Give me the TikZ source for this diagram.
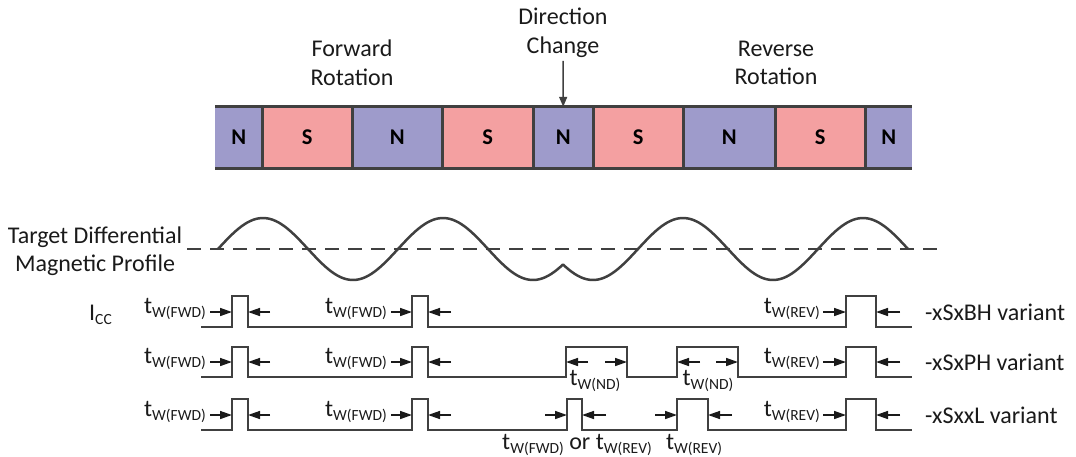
\documentclass[tikz,border=0pt]{standalone}
\usepackage{fontspec}
\setmainfont{Carlito}
\usetikzlibrary{arrows.meta}
\definecolor{lineg}{HTML}{404040}
\definecolor{ncol}{HTML}{9E9BCB}
\definecolor{scol}{HTML}{F4A0A1}
\definecolor{ink}{HTML}{1A1A1A}
\newcommand\twsub[1]{t\raisebox{-4pt}{\fontsize{15.5}{15.5}\selectfont W(#1)}}
\begin{document}
\begin{tikzpicture}[x=1pt,y=-1pt,
  txt/.style={font=\fontsize{24}{28.5}\selectfont, inner sep=0pt, text=ink, align=center},
  mag/.style={draw=none, minimum height=61pt, inner sep=0pt, anchor=west, text=black,
              font=\fontsize{22.5}{22.5}\selectfont\bfseries},
  npole/.style={mag, fill=ncol},
  spole/.style={mag, fill=scol},
  edge/.style={lineg, line width=3pt},
  wave/.style={lineg, line width=2.5pt},
  pulse/.style={lineg, line width=2.5pt},
  dimarr/.style={-{Triangle[length=12pt,width=8pt]}, line width=1.5pt, ink},
  downarr/.style={-{Triangle[length=10pt,width=8pt]}, line width=1.5pt, lineg}
]
\useasboundingbox (0,0) rectangle (1076,456);

% ---- magnet strip ----
\node[npole, minimum width=47pt] (m1) at (215,137.5) {N};
\node[spole, minimum width=90pt] (m2) at (262,137.5) {S};
\node[npole, minimum width=90pt] (m3) at (352,137.5) {N};
\node[spole, minimum width=91pt] (m4) at (442,137.5) {S};
\node[npole, minimum width=60pt] (m5) at (533,137.5) {N};
\node[spole, minimum width=90pt] (m6) at (593,137.5) {S};
\node[npole, minimum width=92pt] (m7) at (683,137.5) {N};
\node[spole, minimum width=90pt] (m8) at (775,137.5) {S};
\node[npole, minimum width=47pt] (m9) at (865,137.5) {N};
\draw[edge] (m1.north west) -- (m9.north east);
\draw[edge] (m1.south west) -- (m9.south east);
\foreach \m in {m1,m2,m3,m4,m5,m6,m7,m8}
  \draw[edge] (\m.north east) -- (\m.south east);

% ---- top labels ----
\node[txt] (fwd) at (352,63) {Forward\\Rotation};
\node[txt] (rev) at (776,63) {Reverse\\Rotation};
\node[txt] (dir) at (563,33) {Direction\\Change};
\draw[downarr] (dir.south) ++(0,3) coordinate (dtop) (dtop) -- (m5.north);

% ---- magnetic profile ----
\node[txt] (prof) at (95,251) {Target Differential\\Magnetic Profile};
\coordinate (dl) at (187,249);
\coordinate (dr) at (942,249);
\draw[lineg, line width=2.5pt, dash pattern=on 14pt off 9pt] (dl) -- (dr);
\draw[wave, line join=round] plot[domain=218:563, samples=120] (\x, {249-31*sin(2*(\x-218))})
   -- plot[domain=563:908, samples=120] (\x, {249+31*cos(2*(\x-593))});

% ---- Icc label ----
\node[txt, anchor=base west] (icc) at (89,320) {I\raisebox{-4pt}{\fontsize{15.5}{15.5}\selectfont CC}};

% ---- row 1: BH ----
\draw[pulse] (201,327) -- (232,327) -- (232,296) -- (248,296) -- (248,327)
  -- (412,327) -- (412,296) -- (428,296) -- (428,327)
  -- (846,327) -- (846,296) -- (876,296) -- (876,327) -- (912,327);
\draw[dimarr] (210,312) -- (232,312);
\draw[dimarr] (270,312) -- (248,312);
\draw[dimarr] (391,312) -- (412,312);
\draw[dimarr] (451,312) -- (428,312);
\draw[dimarr] (823,312) -- (846,312);
\draw[dimarr] (900,312) -- (876,312);
\node[txt, anchor=base east] (r1a) at (206,313) {\twsub{FWD}};
\node[txt, anchor=base east] (r1b) at (387,313) {\twsub{FWD}};
\node[txt, anchor=base east] (r1c) at (820,313) {\twsub{REV}};
\node[txt, anchor=base west] (v1) at (925,320) {-xSxBH variant};

% ---- row 2: PH ----
\draw[pulse] (201,377) -- (232,377) -- (232,347) -- (248,347) -- (248,377)
  -- (412,377) -- (412,347) -- (428,347) -- (428,377)
  -- (566,377) -- (566,347) -- (627,347) -- (627,377)
  -- (677,377) -- (677,347) -- (738,347) -- (738,377)
  -- (846,377) -- (846,347) -- (876,347) -- (876,377) -- (912,377);
\draw[dimarr] (210,362) -- (232,362);
\draw[dimarr] (270,362) -- (248,362);
\draw[dimarr] (391,362) -- (412,362);
\draw[dimarr] (451,362) -- (428,362);
\draw[dimarr] (588,362) -- (566,362);
\draw[dimarr] (605,362) -- (627,362);
\draw[dimarr] (700,362) -- (677,362);
\draw[dimarr] (716,362) -- (738,362);
\draw[dimarr] (823,362) -- (846,362);
\draw[dimarr] (900,362) -- (876,362);
\node[txt, anchor=base east] (r2a) at (206,363) {\twsub{FWD}};
\node[txt, anchor=base east] (r2b) at (387,363) {\twsub{FWD}};
\node[txt, anchor=base east] (r2c) at (820,363) {\twsub{REV}};
\node[txt, anchor=base] (r2d) at (595,385) {\twsub{ND}};
\node[txt, anchor=base] (r2e) at (708,385) {\twsub{ND}};
\node[txt, anchor=base west] (v2) at (925,370) {-xSxPH variant};

% ---- row 3: xxL ----
\draw[pulse] (201,430) -- (232,430) -- (232,399) -- (248,399) -- (248,430)
  -- (412,430) -- (412,399) -- (428,399) -- (428,430)
  -- (567,430) -- (567,399) -- (582,399) -- (582,430)
  -- (677,430) -- (677,399) -- (708,399) -- (708,430)
  -- (846,430) -- (846,399) -- (876,399) -- (876,430) -- (912,430);
\draw[dimarr] (210,415) -- (232,415);
\draw[dimarr] (270,415) -- (248,415);
\draw[dimarr] (391,415) -- (412,415);
\draw[dimarr] (451,415) -- (428,415);
\draw[dimarr] (545,415) -- (567,415);
\draw[dimarr] (606,415) -- (582,415);
\draw[dimarr] (655,415) -- (677,415);
\draw[dimarr] (732,415) -- (708,415);
\draw[dimarr] (823,415) -- (846,415);
\draw[dimarr] (900,415) -- (876,415);
\node[txt, anchor=base east] (r3a) at (206,416) {\twsub{FWD}};
\node[txt, anchor=base east] (r3b) at (387,416) {\twsub{FWD}};
\node[txt, anchor=base east] (r3c) at (820,416) {\twsub{REV}};
\node[txt, anchor=base] (r3d) at (577,449) {\twsub{FWD} or \twsub{REV}};
\node[txt, anchor=base] (r3e) at (694,449) {\twsub{REV}};
\node[txt, anchor=base west] (v3) at (925,423) {-xSxxL variant};
\end{tikzpicture}
\end{document}
